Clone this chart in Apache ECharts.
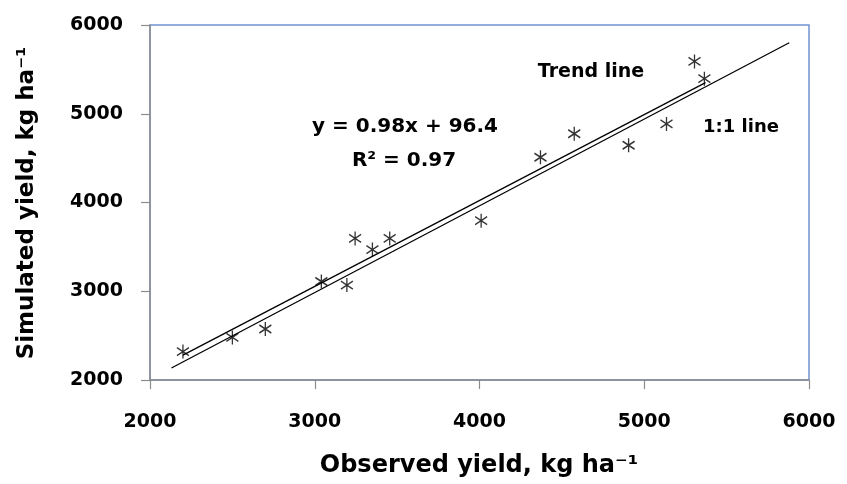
<!DOCTYPE html>
<html>
<head>
<meta charset="utf-8">
<script src="https://cdn.jsdelivr.net/npm/echarts@6/dist/echarts.min.js"></script>
<style>
html,body{margin:0;padding:0;background:#fff;}
#chart{width:847px;height:484px;}
</style>
</head>
<body>
<div id="chart"></div>
<script>
// ---- data ----
var observed  = [2200, 2500, 2700, 3040, 3195, 3350, 3245, 3455, 4010, 4370, 4575, 4905, 5135, 5305, 5365];
var simulated = [2320, 2480, 2575, 3110, 3070, 3470, 3595, 3595, 3795, 4510, 4775, 4645, 4885, 5590, 5395];
// line end points as drawn in the picture
var oneToOneX = [2130, 5880];
var oneToOneY = [2135, 5800];
var trendX = [2200, 5372];
var trendY = [2280, 5350];
var axisTicks = [2000, 3000, 4000, 5000, 6000];
var labels = {
  eq: 'y = 0.98x + 96.4',
  r2: 'R² = 0.97',
  trend: 'Trend line',
  oneToOne: '1:1 line',
  xTitle: 'Observed yield, kg ha⁻¹',
  yTitle: 'Simulated yield, kg ha⁻¹'
};

var FONT = 'DejaVu Sans';
var scatterData = observed.map(function (x, i) { return [x, simulated[i]]; });
var oneToOne = oneToOneX.map(function (x, i) { return [x, oneToOneY[i]]; });
var trend = trendX.map(function (x, i) { return [x, trendY[i]]; });

var chart = echarts.init(document.getElementById('chart'), null, {renderer: 'canvas'});
var axisCommon = {
  type: 'value',
  min: axisTicks[0],
  max: axisTicks[axisTicks.length - 1],
  interval: 1000,
  splitLine: {show: false},
  axisLine: {show: true, lineStyle: {color: '#8c8c8c', width: 1.5}},
  axisTick: {show: true, inside: false, length: 9, lineStyle: {color: '#8c8c8c', width: 1.2}},
  axisLabel: {fontFamily: FONT, fontWeight: 'bold', fontSize: 19, color: '#000',
    formatter: function (v) { return String(v); }}
};

chart.setOption({
  animation: false,
  backgroundColor: '#fff',
  grid: {left: 150, right: 38, top: 25, bottom: 104, show: true, borderColor: '#7094d0', borderWidth: 1.5, backgroundColor: 'transparent'},
  xAxis: Object.assign({}, axisCommon, {
    axisLabel: Object.assign({}, axisCommon.axisLabel, {margin: 33})
  }),
  yAxis: Object.assign({}, axisCommon, {
    axisLabel: Object.assign({}, axisCommon.axisLabel, {margin: 27})
  }),
  series: [
    {
      type: 'line', data: oneToOne, symbol: 'none', silent: true,
      lineStyle: {color: '#000', width: 1.3}
    },
    {
      type: 'line', data: trend, symbol: 'none', silent: true,
      lineStyle: {color: '#000', width: 1.3}
    },
    {
      type: 'scatter', data: scatterData,
      symbol: 'path://M6,0 L6,14 M0,3 L12,11 M0,11 L12,3',
      symbolSize: [12, 14],
      itemStyle: {color: 'rgba(0,0,0,0)', borderColor: '#000', borderWidth: 1.4}
    }
  ],
  graphic: [
    {type: 'text', x: 405, y: 127, style: {text: labels.eq, font: 'bold 20px "DejaVu Sans"', fill: '#000', align: 'center', verticalAlign: 'middle'}},
    {type: 'text', x: 404, y: 161, style: {text: labels.r2, font: 'bold 20px "DejaVu Sans"', fill: '#000', align: 'center', verticalAlign: 'middle'}},
    {type: 'text', x: 591, y: 72, style: {text: labels.trend, font: 'bold 19px "DejaVu Sans"', fill: '#000', align: 'center', verticalAlign: 'middle'}},
    {type: 'text', x: 741, y: 127, style: {text: labels.oneToOne, font: 'bold 18px "DejaVu Sans"', fill: '#000', align: 'center', verticalAlign: 'middle'}},
    {type: 'text', x: 479, y: 466, style: {text: labels.xTitle, font: 'bold 24px "DejaVu Sans"', fill: '#000', align: 'center', verticalAlign: 'middle'}},
    {type: 'text', x: 27, y: 203, rotation: Math.PI / 2, style: {text: labels.yTitle, font: 'bold 23px "DejaVu Sans"', fill: '#000', align: 'center', verticalAlign: 'middle'}}
  ]
});
</script>
</body>
</html>
